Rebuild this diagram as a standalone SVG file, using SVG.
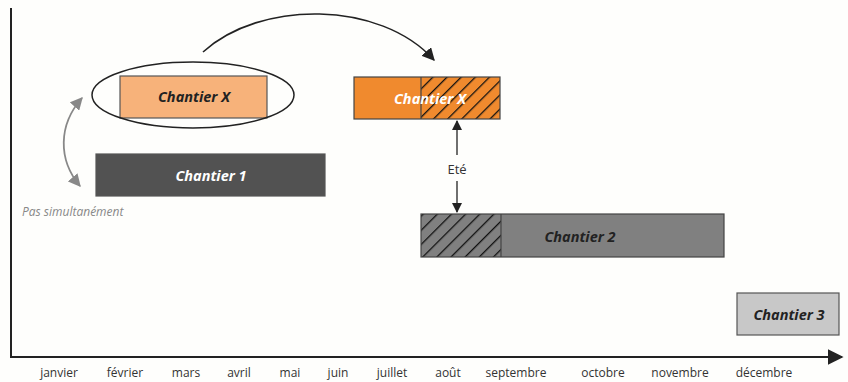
<svg xmlns="http://www.w3.org/2000/svg" width="848" height="382" viewBox="0 0 848 382">
<defs>
<style>
.lbl{font-family:"Open Sans","Liberation Sans",sans-serif;font-style:italic;font-weight:bold;font-size:14.5px;text-anchor:middle}
.m{font-family:"Open Sans","Liberation Sans",sans-serif;font-size:12px;fill:#333;text-anchor:middle}
.box{stroke:#555;stroke-width:1.2}
</style>
<pattern id="hatch" patternUnits="userSpaceOnUse" width="10" height="10" patternTransform="rotate(45)">
<line x1="0" y1="0" x2="0" y2="10" stroke="#111" stroke-width="2.6"/>
</pattern>
<marker id="ab" viewBox="0 0 10 10" refX="9" refY="5" markerWidth="8" markerHeight="8" orient="auto-start-reverse">
<path d="M0,0 L10,5 L0,10 z" fill="#222"/>
</marker>
<marker id="ag" viewBox="0 0 10 10" refX="9" refY="5" markerWidth="7" markerHeight="7" orient="auto-start-reverse">
<path d="M0,0 L10,5 L0,10 z" fill="#888"/>
</marker>
</defs>
<rect width="848" height="382" fill="#fefefc"/>
<g id="axes" stroke="#222" stroke-width="2">
<line x1="11" y1="8" x2="11" y2="357"/>
<line x1="10" y1="357" x2="842" y2="357" marker-end="url(#ab)"/>
</g>
<g id="months">
<text class="m" x="59" y="377">janvier</text>
<text class="m" x="125" y="377">février</text>
<text class="m" x="186" y="377">mars</text>
<text class="m" x="239" y="377">avril</text>
<text class="m" x="290" y="377">mai</text>
<text class="m" x="338" y="377">juin</text>
<text class="m" x="392" y="377">juillet</text>
<text class="m" x="448" y="377">août</text>
<text class="m" x="516" y="377">septembre</text>
<text class="m" x="603" y="377">octobre</text>
<text class="m" x="680" y="377">novembre</text>
<text class="m" x="764" y="377">décembre</text>
</g>
<g id="chantierX1">
<rect class="box" x="120" y="76" width="147" height="42" fill="#f7b27a"/>
<ellipse cx="193" cy="95" rx="101" ry="33" fill="none" stroke="#222" stroke-width="1.5"/>
<text class="lbl" x="194" y="102" fill="#222">Chantier X</text>
</g>
<g id="chantier1">
<rect class="box" x="96" y="154" width="229" height="42" fill="#525252"/>
<text class="lbl" x="211" y="181" fill="#fff">Chantier 1</text>
</g>
<g id="pas">
<text x="22" y="216" font-family="'Open Sans','Liberation Sans',sans-serif" font-style="italic" font-size="12" fill="#888">Pas simultanément</text>
</g>
<g id="chantierX2">
<rect x="354" y="77" width="146" height="42" fill="#f08a2e"/>
<rect x="421" y="77" width="79" height="42" fill="url(#hatch)"/>
<rect x="354" y="77" width="146" height="42" fill="none" stroke="#444" stroke-width="1.2"/>
<line x1="421" y1="77" x2="421" y2="119" stroke="#444" stroke-width="1.2"/>
<text class="lbl" x="430" y="104" fill="#fff">Chantier X</text>
</g>
<g id="chantier2">
<rect x="421" y="214" width="303" height="43" fill="#808080"/>
<rect x="421" y="214" width="80" height="43" fill="url(#hatch)"/>
<rect x="421" y="214" width="303" height="43" fill="none" stroke="#444" stroke-width="1.2"/>
<line x1="501" y1="214" x2="501" y2="257" stroke="#444" stroke-width="1.2"/>
<text class="lbl" x="580" y="242" fill="#222">Chantier 2</text>
</g>
<g id="chantier3">
<rect class="box" x="737" y="293" width="102" height="42" fill="#c8c8c8"/>
<text class="lbl" x="789" y="320" fill="#222">Chantier 3</text>
</g>
<g id="ete">
<text x="457" y="174" font-family="'Open Sans','Liberation Sans',sans-serif" font-size="13" fill="#333" text-anchor="middle">Eté</text>
</g>
<g id="connectors" fill="none">
<path d="M203,52 C260,0 380,0 434,60" stroke="#222" stroke-width="1.6" marker-end="url(#ab)"/>
<path d="M82,98 C58,125 58,160 80,186" stroke="#888" stroke-width="1.8" marker-start="url(#ag)" marker-end="url(#ag)"/>
<line x1="457" y1="121" x2="457" y2="155" stroke="#222" stroke-width="1.3" marker-start="url(#ab)"/>
<line x1="457" y1="181" x2="457" y2="212" stroke="#222" stroke-width="1.3" marker-end="url(#ab)"/>
</g>
</svg>
